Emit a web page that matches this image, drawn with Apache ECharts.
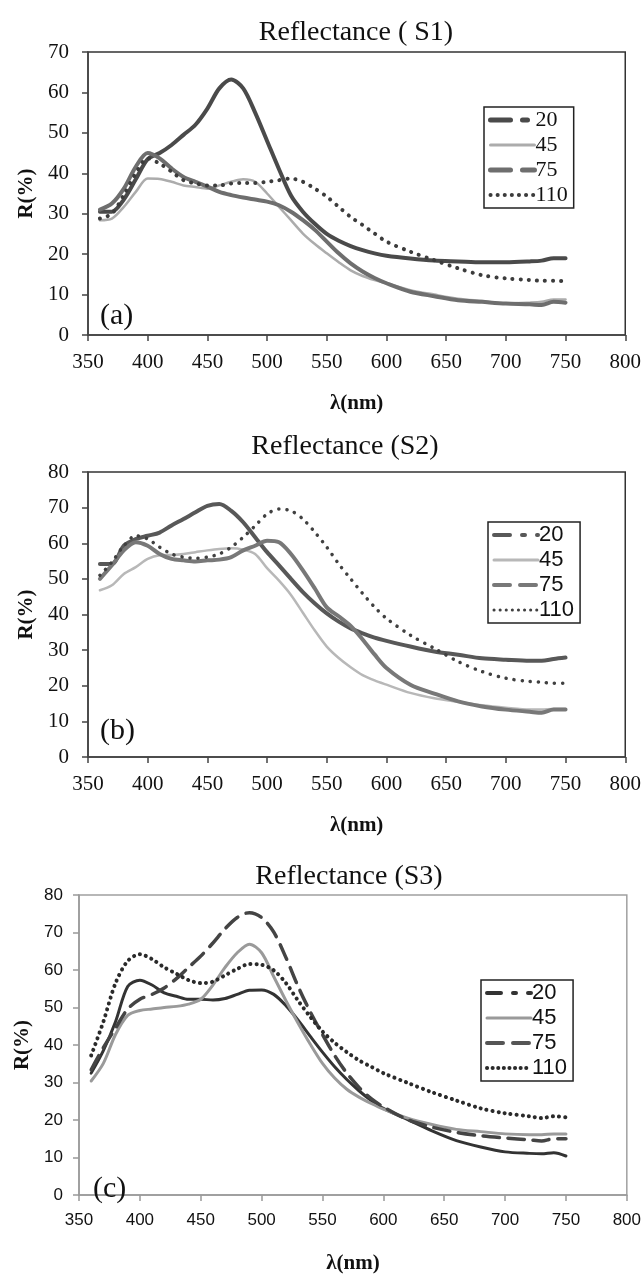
<!DOCTYPE html>
<html>
<head>
<meta charset="utf-8">
<script src="https://cdn.jsdelivr.net/npm/echarts@6/dist/echarts.min.js"></script>
<style>
  html, body { margin: 0; padding: 0; background: #fff; }
  #main { width: 644px; height: 1275px; }
</style>
</head>
<body>
<div id="main"></div>
<script>
// wavelength (nm)
var wl = [360, 370, 380, 390, 400, 410, 420, 430, 440, 450, 460, 470, 480, 490, 500, 510, 520, 530, 540, 550,
  560, 570, 580, 590, 600, 620, 640, 660, 680, 700, 720, 730, 740, 750];
var xTicks = [350, 400, 450, 500, 550, 600, 650, 700, 750, 800];
var legendNames = ['20', '45', '75', '110'];

// S1
var s1_20 = [30.5, 30.5, 33.5, 38.5, 43.5, 45, 47, 49.5, 52, 56, 61, 63.2, 61, 55, 48, 41, 34.5, 30.5, 27.5, 25,
  23.3, 22, 21, 20.2, 19.6, 18.9, 18.4, 18.2, 18, 18, 18.2, 18.4, 19, 19];
var s1_45 = [28.4, 28.8, 31.7, 35.4, 38.7, 38.6, 37.9, 37, 36.6, 36.2, 37, 37.9, 38.5, 37.9, 35, 31.7, 28.4, 25.1, 22.5, 20.2,
  18, 16, 14.6, 13.6, 12.8, 11.1, 10, 9, 8.4, 7.8, 8, 8.2, 8.8, 8.8];
var s1_75 = [31, 32.5, 36.2, 41.6, 45, 43.7, 41.2, 39.1, 37.9, 36.7, 35.4, 34.6, 34, 33.5, 33, 32.1, 30.5, 28.4, 26, 23.1,
  20.2, 17.7, 15.7, 14.1, 12.8, 10.7, 9.6, 8.6, 8.2, 7.8, 7.6, 7.4, 8.2, 8];
var s1_110 = [28.8, 30, 34.6, 40, 43.7, 42.4, 40.4, 38.3, 37.5, 37, 37, 37.5, 37.6, 37.6, 37.9, 38.3, 38.7, 37.9, 36.2, 34.2,
  31.7, 29.2, 27.2, 25.1, 23.1, 20.6, 18.5, 16.5, 14.8, 14, 13.6, 13.4, 13.4, 13.3];

// S2
var s2_20 = [54.2, 54.2, 59.3, 61.2, 62.1, 63, 65, 66.8, 68.7, 70.5, 71, 69.1, 65.9, 61.7, 57.5, 53.8, 50, 46.3, 43.1, 40.3,
  38, 36.1, 34.7, 33.5, 32.6, 31, 29.6, 28.7, 27.7, 27.3, 27, 27, 27.5, 27.9];
var s2_45 = [46.8, 48.2, 51.4, 53.3, 55.6, 56.6, 56.7, 57, 57.5, 58, 58.4, 58.6, 58.2, 57, 53, 49.5, 45.5, 40.5, 35.5, 31,
  27.8, 25.2, 23, 21.5, 20.3, 18, 16.5, 15.5, 14.5, 13.8, 13.3, 13.3, 13.5, 13.5];
var s2_75 = [50, 53.8, 58, 60.3, 59.3, 57, 55.6, 55.2, 54.9, 55.2, 55.4, 56.1, 58, 59.3, 60.7, 60.3, 57, 52.4, 47.3, 42,
  39.5, 36.8, 33, 28.8, 25, 20.3, 17.8, 15.6, 14.2, 13.3, 12.7, 12.4, 13.3, 13.3];
var s2_110 = [51, 54.7, 59.3, 62.1, 61.2, 58.9, 57, 56.1, 55.8, 56.1, 57, 58.9, 61.7, 64.9, 68.2, 69.6, 69.1, 66.8, 63.1, 58.9,
  54.2, 50, 45.9, 42.1, 38.9, 34.2, 30.5, 26.8, 24, 22.1, 21.2, 21, 20.7, 20.7];

// S3
var s3_20 = [32.5, 38.5, 46.2, 55.6, 57.3, 56, 53.9, 53, 52.2, 52.2, 52, 52.4, 53.5, 54.6, 54.7, 53.5, 50.5, 46.6, 42.3, 38.1,
  34.2, 30.8, 27.8, 25.2, 23.1, 20.1, 17.1, 14.5, 12.8, 11.5, 11.1, 11, 11.3, 10.4];
var s3_45 = [30.4, 35.1, 42.8, 47.9, 49.2, 49.6, 50, 50.3, 50.9, 52.2, 56, 60.7, 64.6, 66.9, 64.6, 58.2, 51.8, 45.8, 40.2, 35.1,
  31.2, 28.2, 26.1, 24.4, 22.9, 20.5, 18.8, 17.5, 16.9, 16.3, 16.1, 16.1, 16.3, 16.3];
var s3_75 = [33.4, 39.3, 44.5, 49.6, 52.2, 53.5, 55.2, 57.7, 60.7, 63.7, 67.2, 71, 74, 75.3, 74, 70.1, 63.3, 55.6, 48.8, 42.8,
  37.2, 32.5, 28.7, 25.7, 23.5, 20.1, 18.1, 16.7, 15.8, 15.2, 14.7, 14.4, 15, 15];
var s3_110 = [37.2, 46.2, 56.5, 62.4, 64.2, 62.9, 60.7, 59, 57.3, 56.5, 56.9, 58.6, 60.3, 61.6, 61.4, 59.9, 56.5, 51.8, 47.5, 43.6,
  40.6, 38.1, 35.9, 34.2, 32.5, 29.9, 27.4, 25.2, 23.1, 21.8, 21, 20.5, 21, 20.7];

var SERIF = 'Liberation Serif';
var SANS = 'Liberation Sans';

function pairs(vals) {
  return wl.map(function(x, i) { return [x, vals[i]]; });
}

// one line series
function line(panel, name, vals, color, width, type) {
  return {
    name: 'S' + (panel + 1) + '-' + name,
    type: 'line',
    xAxisIndex: panel,
    yAxisIndex: panel,
    smooth: 0.3,
    symbol: 'none',
    data: pairs(vals),
    lineStyle: { color: color, width: width, type: type || 'solid', cap: 'round' },
    itemStyle: { color: color }
  };
}

function xAxisOf(panel, font, size, lineColor) {
  return {
    type: 'value', gridIndex: panel, min: 350, max: 800, interval: 50,
    name: 'λ(nm)', nameLocation: 'middle', nameGap: 58,
    nameTextStyle: { fontFamily: SERIF, fontWeight: 'bold', fontSize: 21, color: '#111' },
    axisLine: { lineStyle: { color: lineColor, width: 1.5 } },
    axisTick: { length: 6, lineStyle: { color: lineColor, width: 1.5 } },
    axisLabel: { fontFamily: font, fontSize: size, color: '#111', margin: 17 },
    splitLine: { show: false }
  };
}

function yAxisOf(panel, max, font, size, lineColor, gap, margin) {
  return {
    type: 'value', gridIndex: panel, min: 0, max: max, interval: 10,
    name: 'R(%)', nameLocation: 'middle', nameGap: gap, nameRotate: 90,
    nameTextStyle: { fontFamily: SERIF, fontWeight: 'bold', fontSize: 21, color: '#111' },
    axisLine: { show: true, lineStyle: { color: lineColor, width: 1.5 } },
    axisTick: { show: true, length: 6, lineStyle: { color: lineColor, width: 1.5 } },
    axisLabel: { fontFamily: font, fontSize: size, color: '#111', margin: margin },
    splitLine: { show: false }
  };
}

function legendOf(panel, left, top, font, styles) {
  return {
    orient: 'vertical', left: left, top: top,
    data: legendNames.map(function(n, i) {
      return { name: 'S' + (panel + 1) + '-' + n, lineStyle: styles[i], itemStyle: { opacity: 0 } };
    }),
    formatter: function(name) { return name.split('-')[1]; },
    backgroundColor: '#fff', borderColor: '#222', borderWidth: 1.5, borderRadius: 0,
    padding: [2, 6, 2, 4], itemGap: 3, itemWidth: 44, itemHeight: 14,
    textStyle: { fontFamily: font, fontSize: 22, color: '#111', lineHeight: 22, padding: [0, 0, 0, -4] },
    selectedMode: false
  };
}

function titleOf(text, left, top, size) {
  return { text: text, left: left, top: top, textAlign: 'center',
    textStyle: { fontFamily: SERIF, fontWeight: 'normal', fontSize: size, color: '#111' } };
}

var chart = echarts.init(document.getElementById('main'));

var option = {
  backgroundColor: '#fff',
  animation: false,
  title: [
    titleOf('Reflectance ( S1)', 351, 14, 28),
    titleOf('Reflectance (S2)', 340, 428, 28),
    titleOf('Reflectance (S3)', 344, 858, 28),
    { text: '(a)', left: 95, top: 296, textStyle: { fontFamily: SERIF, fontWeight: 'normal', fontSize: 30, color: '#111' } },
    { text: '(b)', left: 95, top: 711, textStyle: { fontFamily: SERIF, fontWeight: 'normal', fontSize: 30, color: '#111' } },
    { text: '(c)', left: 88, top: 1169, textStyle: { fontFamily: SERIF, fontWeight: 'normal', fontSize: 30, color: '#111' } }
  ],
  grid: [
    { left: 88, right: 16, top: 52, height: 283, show: true, borderColor: '#333', borderWidth: 1.5 },
    { left: 88, right: 16, top: 472, height: 285, show: true, borderColor: '#333', borderWidth: 1.5 },
    { left: 79, right: 13, top: 895, height: 312, show: true, borderColor: '#a0a0a0', borderWidth: 1.5 }
  ],
  xAxis: [
    xAxisOf(0, SERIF, 21, '#444'),
    xAxisOf(1, SERIF, 21, '#444'),
    xAxisOf(2, SANS, 17, '#999')
  ],
  yAxis: [
    yAxisOf(0, 70, SERIF, 21, '#444', 50, 19),
    yAxisOf(1, 80, SERIF, 21, '#444', 50, 19),
    yAxisOf(2, 80, SANS, 17, '#999', 40, 16)
  ],
  legend: [
    legendOf(0, 484, 107, SERIF, [
      { color: '#4a4a4a', width: 5, type: [20, 12, 5, 12] },
      { color: '#acacac', width: 3, type: 'solid' },
      { color: '#6e6e6e', width: 5, type: [20, 12, 20, 12] },
      { color: '#3c3c3c', width: 4, type: [0.1, 7], cap: 'round' }
    ]),
    legendOf(1, 488, 522, SANS, [
      { color: '#585858', width: 4, type: [16, 12, 3, 12] },
      { color: '#b8b8b8', width: 3, type: 'solid' },
      { color: '#787878', width: 4, type: [16, 10] },
      { color: '#404040', width: 3, type: [0.1, 6], cap: 'round' }
    ]),
    legendOf(2, 481, 980, SANS, [
      { color: '#333333', width: 4, type: [14, 12, 3, 12] },
      { color: '#9a9a9a', width: 3, type: 'solid' },
      { color: '#555555', width: 4, type: [16, 10] },
      { color: '#2a2a2a', width: 4, type: [0.1, 5.5], cap: 'round' }
    ])
  ],
  series: [
    line(0, '20', s1_20, '#4a4a4a', 4),
    line(0, '45', s1_45, '#acacac', 2.5),
    line(0, '75', s1_75, '#6e6e6e', 4),
    line(0, '110', s1_110, '#3c3c3c', 4, [0.1, 8]),

    line(1, '20', s2_20, '#585858', 4),
    line(1, '45', s2_45, '#b8b8b8', 2.5),
    line(1, '75', s2_75, '#787878', 4),
    line(1, '110', s2_110, '#404040', 3.5, [0.1, 8]),

    line(2, '20', s3_20, '#333333', 3),
    line(2, '45', s3_45, '#9a9a9a', 3),
    line(2, '75', s3_75, '#444444', 3.5, [16, 9]),
    line(2, '110', s3_110, '#2a2a2a', 4, [0.1, 6])
  ]
};

chart.setOption(option);
</script>
</body>
</html>
